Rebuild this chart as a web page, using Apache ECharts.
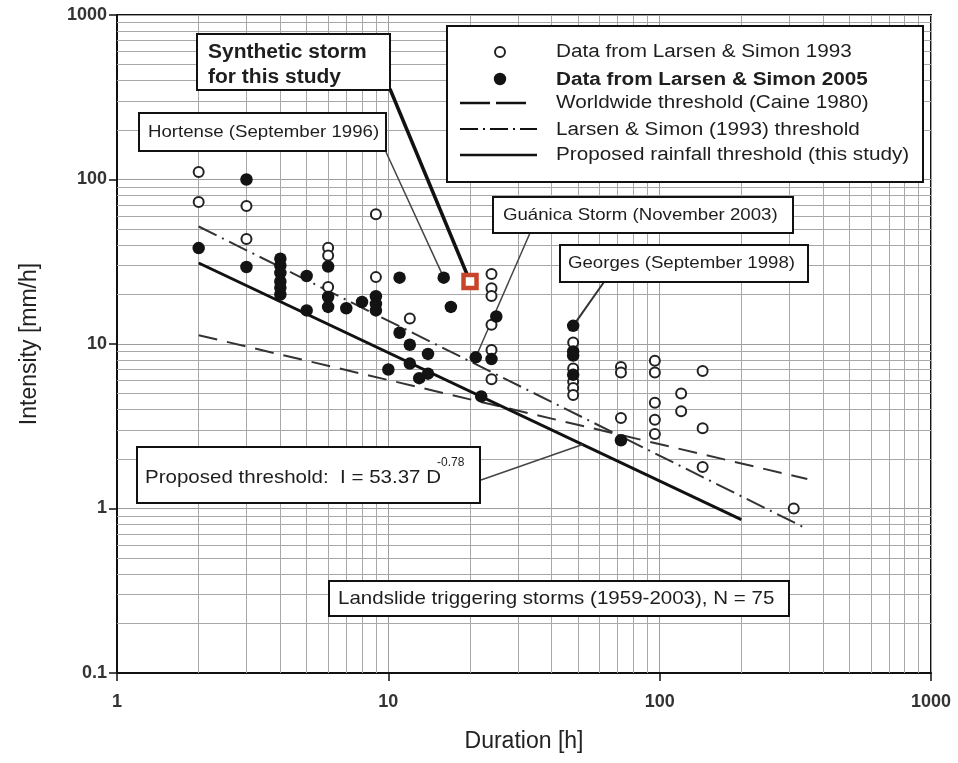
<!DOCTYPE html>
<html>
<head>
<meta charset="utf-8">
<script src="https://cdn.jsdelivr.net/npm/echarts@6/dist/echarts.min.js"></script>
<style>
  html, body { margin: 0; padding: 0; background: #fff; }
  #chart { width: 958px; height: 763px; }
</style>
</head>
<body>
<div id="chart"></div>
<script>
// Rainfall intensity-duration data for landslide-triggering storms.
const durationTicks = [1, 10, 100, 1000];
const intensityTicks = [0.1, 1, 10, 100, 1000];

// Larsen & Simon 1993 (open circles)
const dur1993 = [2, 2, 3, 3, 6, 6, 6, 9, 9, 12,
  24, 24, 24, 24, 24, 24,
  48, 48, 48, 48, 48,
  72, 72, 72,
  96, 96, 96, 96, 96,
  120, 120,
  144, 144, 144,
  312];
const int1993 = [111, 73, 69, 43.5, 38.5, 34.5, 22.2, 61.5, 25.5, 14.3,
  26.6, 21.8, 19.6, 13.1, 9.2, 6.1,
  10.2, 7.1, 5.9, 5.4, 4.9,
  7.25, 6.7, 3.55,
  7.9, 6.7, 4.4, 3.46, 2.84,
  5.0, 3.9,
  6.85, 3.08, 1.79,
  1.0];

// Larsen & Simon 2005 (filled circles)
const dur2005 = [2, 3, 3, 4, 4, 4, 4, 4, 4, 5, 5, 6, 6, 6, 7, 8, 9, 9, 9,
  10, 11, 11, 12, 12, 13, 14, 14, 16, 17, 21, 22, 25, 24,
  48, 48, 48, 48, 72];
const int2005 = [38.3, 100, 29.4, 33, 30, 27, 24, 22, 20, 25.9, 16, 29.6, 19.3, 16.8, 16.5, 18, 19.5, 17.5, 16,
  7.0, 25.3, 11.7, 9.9, 7.6, 6.2, 8.7, 6.6, 25.3, 16.8, 8.3, 4.8, 14.7, 8.1,
  12.9, 9.0, 8.5, 6.5, 2.6];

// Synthetic design storm [duration h, intensity mm/h]
const syntheticStorm = [20, 24];

// Threshold curves, end points [duration, intensity]
const caineLine = [[2, 11.31], [350, 1.51]];
const larsen1993Line = [[2, 51.8], [350, 0.75]];
const proposedLine = [[2, 31.08], [200, 0.856]];

// Named storms referenced by callouts
const hortense = [16, 25.3];
const guanica = [21, 8.3];
const georges = [48, 12.9];
const proposedCalloutPoint = [52, 2.45];

// Minor log grid lines (2..9 within each decade)
const minorX = [];
[1, 10, 100].forEach(d => { for (let k = 2; k <= 9; k++) minorX.push(k * d); });
const minorY = [];
[0.1, 1, 10, 100].forEach(d => { for (let k = 2; k <= 9; k++) minorY.push(+(k * d).toPrecision(3)); });

const FONT = "'Liberation Sans', Arial, sans-serif";
const INK = '#1e1e1e';

const zip = (xs, ys) => xs.map((x, i) => [x, ys[i]]);
const plainNumber = v => String(+(+v).toPrecision(6));

const chart = echarts.init(document.getElementById('chart'), null, { renderer: 'canvas' });

function boxText(x, y, text, size, scaleX, weight) {
  return {
    type: 'text', x: x, y: y, scaleX: scaleX || 1, z: 102,
    style: {
      text: text, fill: INK, font: (weight || 'normal') + ' ' + size + 'px ' + FONT,
      textAlign: 'left', textVerticalAlign: 'middle'
    }
  };
}
function boxRect(x, y, w, h) {
  return {
    type: 'rect', shape: { x: x, y: y, width: w, height: h }, z: 101,
    style: { fill: '#fff', stroke: '#111', lineWidth: 2 }
  };
}
function legendLine(x1, x2, y, dash, width) {
  return {
    type: 'line', z: 102, shape: { x1: x1, y1: y, x2: x2, y2: y },
    style: { stroke: '#111', lineWidth: width, lineDash: dash }
  };
}

const option = {
  backgroundColor: '#fff',
  animation: false,
  grid: {
    left: 117, right: 27, top: 15, bottom: 90,
    show: true, borderColor: '#111', borderWidth: 2
  },
  xAxis: {
    type: 'log', logBase: 10, min: durationTicks[0], max: durationTicks[durationTicks.length - 1],
    name: 'Duration [h]', nameLocation: 'middle', nameGap: 57,
    nameTextStyle: { fontFamily: FONT, fontSize: 23, color: '#222' },
    axisLine: { lineStyle: { color: '#111', width: 2 } },
    axisTick: { show: true, length: 8, lineStyle: { color: '#111', width: 1.5 } },
    axisLabel: { fontFamily: FONT, fontSize: 18, fontWeight: 'bold', color: '#333', margin: 20, formatter: plainNumber },
    splitLine: { show: true, lineStyle: { color: '#9c9c9c', width: 1 } }
  },
  yAxis: {
    type: 'log', logBase: 10, min: intensityTicks[0], max: intensityTicks[intensityTicks.length - 1],
    name: 'Intensity [mm/h]', nameLocation: 'middle', nameGap: 76, nameRotate: 90,
    nameTextStyle: { fontFamily: FONT, fontSize: 23, color: '#222' },
    axisLine: { lineStyle: { color: '#111', width: 2 } },
    axisTick: { show: true, length: 8, lineStyle: { color: '#111', width: 1.5 } },
    axisLabel: { fontFamily: FONT, fontSize: 18, fontWeight: 'bold', color: '#333', margin: 10, formatter: plainNumber },
    splitLine: { show: true, lineStyle: { color: '#9c9c9c', width: 1 } }
  },
  series: [
    {
      // minor grid lines
      type: 'line', data: [], silent: true,
      markLine: {
        silent: true, z: 1, symbol: ['none', 'none'], animation: false,
        label: { show: false },
        lineStyle: { color: '#a8a8a8', width: 1, type: 'solid' },
        emphasis: { disabled: true },
        data: minorX.map(v => ({ xAxis: v })).concat(minorY.map(v => ({ yAxis: v })))
      }
    },
    {
      name: 'Worldwide threshold (Caine 1980)', type: 'line', data: caineLine,
      symbol: 'none', silent: true, z: 3,
      lineStyle: { color: '#333', width: 2, type: [19, 10] }
    },
    {
      name: 'Larsen & Simon (1993) threshold', type: 'line', data: larsen1993Line,
      symbol: 'none', silent: true, z: 3,
      lineStyle: { color: '#333', width: 2, type: [20, 6, 2, 6] }
    },
    {
      name: 'Proposed rainfall threshold (this study)', type: 'line', data: proposedLine,
      symbol: 'none', silent: true, z: 3,
      lineStyle: { color: '#111', width: 3 }
    },
    {
      // callout leader lines
      type: 'line', data: [], silent: true,
      markLine: {
        silent: true, z: 4, symbol: ['none', 'none'], animation: false,
        label: { show: false },
        emphasis: { disabled: true },
        data: [
          [{ x: 390, y: 89, lineStyle: { color: '#111', width: 3.5, type: 'solid' } }, { coord: syntheticStorm }],
          [{ x: 386, y: 152, lineStyle: { color: '#444', width: 1.5, type: 'solid' } }, { coord: hortense }],
          [{ x: 530, y: 233, lineStyle: { color: '#444', width: 1.5, type: 'solid' } }, { coord: guanica }],
          [{ x: 604, y: 282, lineStyle: { color: '#333', width: 2, type: 'solid' } }, { coord: georges }],
          [{ x: 481, y: 480, lineStyle: { color: '#444', width: 1.5, type: 'solid' } }, { coord: proposedCalloutPoint }]
        ]
      }
    },
    {
      name: 'Data from Larsen & Simon 1993', type: 'scatter', data: zip(dur1993, int1993),
      symbol: 'circle', symbolSize: 10, z: 5,
      itemStyle: { color: '#fff', borderColor: '#222', borderWidth: 2, opacity: 1 }
    },
    {
      name: 'Data from Larsen & Simon 2005', type: 'scatter', data: zip(dur2005, int2005),
      symbol: 'circle', symbolSize: 12.5, z: 6,
      itemStyle: { color: '#131313', opacity: 1 }
    },
    {
      name: 'Synthetic storm', type: 'scatter', data: [syntheticStorm],
      symbol: 'rect', symbolSize: 13, z: 7,
      itemStyle: { color: '#fff', borderColor: '#c8452c', borderWidth: 4.5, opacity: 1 }
    }
  ],
  graphic: [
    // legend
    boxRect(447, 26, 476, 156),
    { type: 'circle', z: 102, shape: { cx: 500, cy: 52, r: 5 }, style: { fill: '#fff', stroke: '#222', lineWidth: 2 } },
    { type: 'circle', z: 102, shape: { cx: 500, cy: 79, r: 6.2 }, style: { fill: '#131313' } },
    legendLine(460, 527, 103, [30, 6], 2.5),
    legendLine(460, 537, 129, [18, 5, 2, 5], 2),
    legendLine(460, 537, 155, null, 2.5),
    boxText(556, 52, 'Data from Larsen & Simon 1993', 18, 1.15),
    boxText(556, 80, 'Data from Larsen & Simon 2005', 18, 1.15, 'bold'),
    boxText(556, 103, 'Worldwide threshold (Caine 1980)', 18, 1.15),
    boxText(556, 130, 'Larsen & Simon (1993) threshold', 18, 1.15),
    boxText(556, 155, 'Proposed rainfall threshold (this study)', 18, 1.15),

    // synthetic storm callout
    boxRect(197, 34, 193, 56),
    boxText(208, 52, 'Synthetic storm', 20, 1.05, 'bold'),
    boxText(208, 77, 'for this study', 20, 1.05, 'bold'),

    // named storm callouts
    boxRect(139, 113, 247, 38),
    boxText(148, 132, 'Hortense (September 1996)', 16.5, 1.13),
    boxRect(493, 197, 300, 36),
    boxText(503, 215, 'Guánica Storm (November 2003)', 16.5, 1.13),
    boxRect(560, 245, 248, 37),
    boxText(568, 263, 'Georges (September 1998)', 16.5, 1.13),

    // fitted threshold callout
    boxRect(137, 447, 343, 56),
    boxText(145, 478, 'Proposed threshold:  I = 53.37 D', 19, 1.08),
    boxText(437, 463, '-0.78', 12, 1.0),

    // sample summary
    boxRect(329, 581, 460, 35),
    boxText(338, 599, 'Landslide triggering storms (1959-2003), N = 75', 19, 1.08)
  ]
};

chart.setOption(option);
</script>
</body>
</html>
